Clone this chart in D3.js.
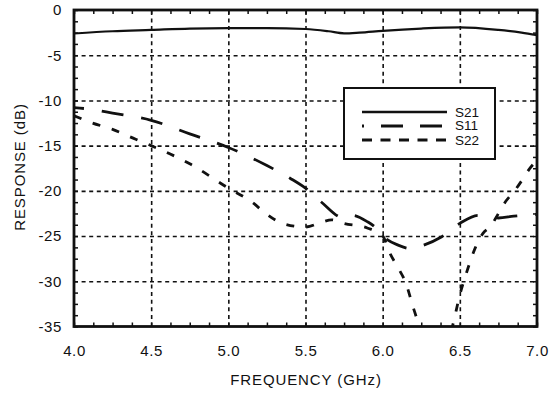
<!DOCTYPE html>
<html>
<head>
<meta charset="utf-8">
<script src="https://cdn.jsdelivr.net/npm/d3@7"></script>
<style>
  html, body { margin: 0; padding: 0; background: #fff; }
  svg { display: block; }
  text { font-family: "Liberation Sans", Arial, Helvetica, sans-serif; fill: #111; }
</style>
</head>
<body>
<svg id="chart" width="552" height="394"></svg>
<script>
// ---- data ----
const xTicks = [4.0, 4.5, 5.0, 5.5, 6.0, 6.5, 7.0];
const yTicks = [0, -5, -10, -15, -20, -25, -30, -35];

const freqS21 = [4.0, 4.25, 4.5, 4.75, 5.0, 5.25, 5.5, 5.65, 5.75, 5.85, 6.0, 6.25, 6.5, 6.75, 6.9, 7.0];
const s21 = [-2.6, -2.35, -2.2, -2.05, -2.0, -2.0, -2.1, -2.35, -2.58, -2.5, -2.3, -2.05, -1.92, -2.2, -2.5, -2.77];

const freqS11 = [4.0, 4.12, 4.25, 4.5, 4.75, 5.0, 5.25, 5.4, 5.5, 5.6, 5.75, 5.8, 5.9, 5.95, 6.0, 6.1, 6.19, 6.25, 6.38, 6.5, 6.62, 6.7, 6.75, 6.85, 7.0];
const s11 = [-10.8, -11.0, -11.4, -12.2, -13.7, -15.2, -17.2, -18.6, -19.7, -21.2, -23.0, -22.7, -23.4, -24.0, -25.0, -26.0, -26.4, -26.1, -25.1, -23.6, -22.7, -22.8, -23.0, -22.8, -22.6];

const freqS22 = [4.0, 4.12, 4.25, 4.4, 4.5, 4.62, 4.75, 5.0, 5.15, 5.25, 5.35, 5.5, 5.6, 5.67, 5.75, 5.9, 6.0, 6.05, 6.1, 6.15, 6.2, 6.25, 6.35, 6.45, 6.5, 6.55, 6.6, 6.65, 6.7, 6.75, 6.8, 6.85, 6.9, 6.95, 7.0];
const s22 = [-11.7, -12.5, -13.2, -14.3, -15.0, -15.9, -17.0, -19.7, -21.2, -22.6, -23.6, -24.0, -23.5, -23.2, -23.6, -24.1, -25.0, -27.0, -28.5, -30.2, -33.0, -35.5, -38.0, -35.1, -31.5, -28.7, -26.3, -24.7, -23.9, -22.5, -21.1, -20.1, -18.9, -17.6, -16.6];

const seriesNames = ["S21", "S11", "S22"];

// ---- layout ----
const L = 74, R = 537, T = 10, B = 326.5;
const svg = d3.select("#chart");
const x = d3.scaleLinear().domain([4.0, 7.0]).range([L, R]);
const y = d3.scaleLinear().domain([-35, 0]).range([B, T]);

// grid
const gridX = svg.append("g").attr("transform", `translate(0,${B})`)
  .call(d3.axisBottom(x).tickValues(xTicks.slice(1, -1)).tickSize(-(B - T)).tickFormat(""));
gridX.select(".domain").remove();
gridX.selectAll("line").attr("stroke", "#111").attr("stroke-width", 1.6).attr("stroke-dasharray", "4,3.6");
const gridY = svg.append("g").attr("transform", `translate(${L},0)`)
  .call(d3.axisLeft(y).tickValues(yTicks.slice(1, -1)).tickSize(-(R - L)).tickFormat(""));
gridY.select(".domain").remove();
gridY.selectAll("line").attr("stroke", "#111").attr("stroke-width", 1.6).attr("stroke-dasharray", "4,3.6");

// minor ticks (inward on all four sides)
const minorX = d3.range(0, 25).map(i => 4.0 + i * 0.125);
const minorY = d3.range(0, 29).map(i => -35 + i * 1.25);
function styleTicks(g) { g.select(".domain").remove(); g.selectAll("line").attr("stroke", "#111").attr("stroke-width", 1.5); }
svg.append("g").attr("transform", `translate(0,${B})`).call(d3.axisBottom(x).tickValues(minorX).tickSize(-4).tickFormat("")).call(styleTicks);
svg.append("g").attr("transform", `translate(0,${T})`).call(d3.axisTop(x).tickValues(minorX).tickSize(-4).tickFormat("")).call(styleTicks);
svg.append("g").attr("transform", `translate(${L},0)`).call(d3.axisLeft(y).tickValues(minorY).tickSize(-4).tickFormat("")).call(styleTicks);
svg.append("g").attr("transform", `translate(${R},0)`).call(d3.axisRight(y).tickValues(minorY).tickSize(-4).tickFormat("")).call(styleTicks);

// tick labels
const xLab = svg.append("g").attr("transform", `translate(0,${B})`)
  .call(d3.axisBottom(x).tickValues(xTicks).tickSize(0).tickPadding(18.5).tickFormat(d => d.toFixed(1)));
xLab.select(".domain").remove();
xLab.selectAll("text").attr("font-size", 15).attr("letter-spacing", "0.6px").attr("font-family", "Liberation Sans, Arial, sans-serif").attr("fill", "#111");
const yLab = svg.append("g").attr("transform", `translate(${L},0)`)
  .call(d3.axisLeft(y).tickValues(yTicks).tickSize(0).tickPadding(12).tickFormat(d => String(d)));
yLab.select(".domain").remove();
yLab.selectAll("text").attr("font-size", 15).attr("letter-spacing", "0.6px").attr("font-family", "Liberation Sans, Arial, sans-serif").attr("fill", "#111");

// clip
svg.append("clipPath").attr("id", "plotclip").append("rect")
  .attr("x", L).attr("y", T).attr("width", R - L).attr("height", B - T);

const line = d3.line().x(d => x(d[0])).y(d => y(d[1])).curve(d3.curveMonotoneX);
const plot = svg.append("g").attr("clip-path", "url(#plotclip)");
const curves = [
  { name: "S21", f: freqS21, v: s21, w: 2.2, dash: null },
  { name: "S11", f: freqS11, v: s11, w: 2.8, dash: "22,18", off: 12 },
  { name: "S22", f: freqS22, v: s22, w: 2.8, dash: "8,12", off: 0 }
];
curves.forEach(c => {
  const pts = c.f.map((f, i) => [f, c.v[i]]);
  plot.append("path").datum(pts).attr("d", line)
    .attr("fill", "none").attr("stroke", "#111").attr("stroke-width", c.w)
    .attr("stroke-dasharray", c.dash).attr("stroke-dashoffset", c.off || 0);
});

// frame
svg.append("rect").attr("x", L).attr("y", T).attr("width", R - L).attr("height", B - T)
  .attr("fill", "none").attr("stroke", "#111").attr("stroke-width", 2.8);

// legend
const lg = svg.append("g");
lg.append("rect").attr("x", 344).attr("y", 88).attr("width", 151).attr("height", 71)
  .attr("fill", "#fff").attr("stroke", "#111").attr("stroke-width", 2);
const legendStyles = [
  { w: 2.6, dash: null, off: 0, ly: 112, ty: 116.5 },
  { w: 2.8, dash: "22,17", off: 20, ly: 126, ty: 130 },
  { w: 3, dash: "10,8.5", off: 0, ly: 140, ty: 144.5 }
];
seriesNames.forEach((n, i) => {
  const s = legendStyles[i];
  lg.append("line").attr("x1", 362).attr("x2", 447).attr("y1", s.ly).attr("y2", s.ly)
    .attr("stroke", "#111").attr("stroke-width", s.w)
    .attr("stroke-dasharray", s.dash).attr("stroke-dashoffset", s.off);
  lg.append("text").attr("x", 455).attr("y", s.ty).attr("font-size", 13.5).text(n);
});

// axis titles
svg.append("text").attr("x", 306).attr("y", 385).attr("text-anchor", "middle")
  .attr("font-size", 15).attr("letter-spacing", "0.9px").text("FREQUENCY (GHz)");
svg.append("text").attr("transform", "translate(25,167) rotate(-90)").attr("text-anchor", "middle")
  .attr("font-size", 15).attr("letter-spacing", "0.9px").text("RESPONSE (dB)");
</script>
</body>
</html>
